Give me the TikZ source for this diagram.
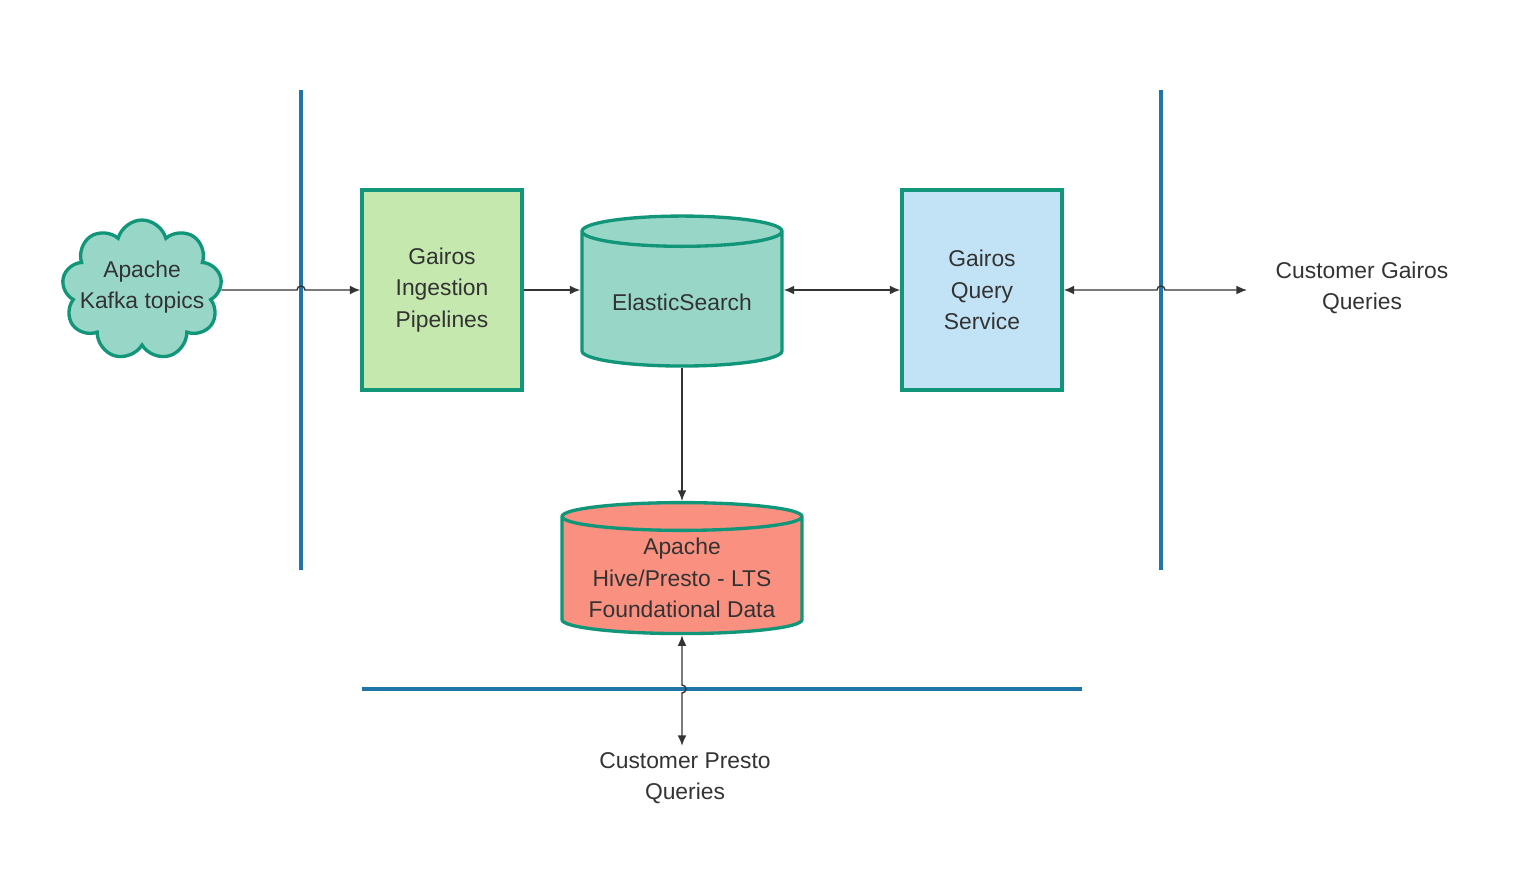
\documentclass[tikz,border=0pt]{standalone}
\usepackage{fontspec}
\setmainfont{Liberation Sans}
\usetikzlibrary{shapes.geometric,shapes.symbols,calc,arrows.meta}
\definecolor{tealb}{HTML}{12967A}
\definecolor{sep}{HTML}{1F75A8}
\definecolor{txt}{HTML}{333333}
\definecolor{cloudf}{HTML}{98D6C8}
\definecolor{ingf}{HTML}{C5E8AE}
\definecolor{qryf}{HTML}{C1E3F5}
\definecolor{hivef}{HTML}{F99080}
\tikzset{
  box/.style={draw=tealb, line width=1.9pt, align=center, text=txt},
  db/.style={box, cylinder, shape border rotate=90, aspect=0.2},
  lbl/.style={align=center, text=txt},
  sepline/.style={draw=sep, line width=1.8pt},
  conn/.style={draw=txt, line width=0.8pt, >={Latex[length=6pt,width=5pt]}},
}
\begin{document}
\begin{tikzpicture}[x=0.02cm, y=-0.02cm, font=\fontsize{13}{18}\selectfont]
  \useasboundingbox (0,0) rectangle (1536,880);

  % separators
  \draw[sepline] (301,90) -- (301,570);
  \draw[sepline] (1161,90) -- (1161,570);
  \draw[sepline] (362,689) -- (1082,689);

  % nodes
  \node[box, cloud, cloud puffs=9, fill=cloudf, minimum width=3.2cm, minimum height=2.8cm, inner sep=0pt] (kafka) at (142,290) {};
  \node[lbl] (kafkat) at (142,287) {Apache\\Kafka topics};
  \node[box, fill=ingf, minimum width=3.2cm, minimum height=4cm] (ing) at (442,290) {Gairos\\Ingestion\\Pipelines};
  \node[db, fill=cloudf, minimum width=4cm, minimum height=3cm] (es) at (682,302) {ElasticSearch};
  \node[box, fill=qryf, minimum width=3.2cm, minimum height=4cm] (qry) at (982,290) {Gairos\\Query\\Service};
  \node[db, aspect=0.14, fill=hivef, minimum width=4.8cm, minimum height=2.62cm, inner ysep=0pt] (hive) at (682,578) {Apache\\Hive/Presto - LTS\\Foundational Data};
  \node[lbl] (cgq) at (1362,288) {Customer Gairos\\Queries};
  \node[lbl] (cpq) at (685,778) {Customer Presto\\Queries};
  \coordinate (cgqin) at (1247,290);

  % connectors
  \draw[conn,->] (kafka.east) -- (297,290) arc[start angle=180, end angle=360, radius=4] -- (ing.west);
  \draw[conn,->] (ing.east) -- (es.west |- ing.east);
  \draw[conn,<->] (es.east |- qry.west) -- (qry.west);
  \draw[conn,<->] (qry.east) -- (1157,290) arc[start angle=180, end angle=360, radius=4] -- (cgqin);
  \draw[conn,->] (es.south) -- (hive.north);
  \draw[conn,<->] (hive.south) -- (682,685) arc[start angle=-90, end angle=90, radius=4] -- (cpq.north -| hive.south);
\end{tikzpicture}
\end{document}
